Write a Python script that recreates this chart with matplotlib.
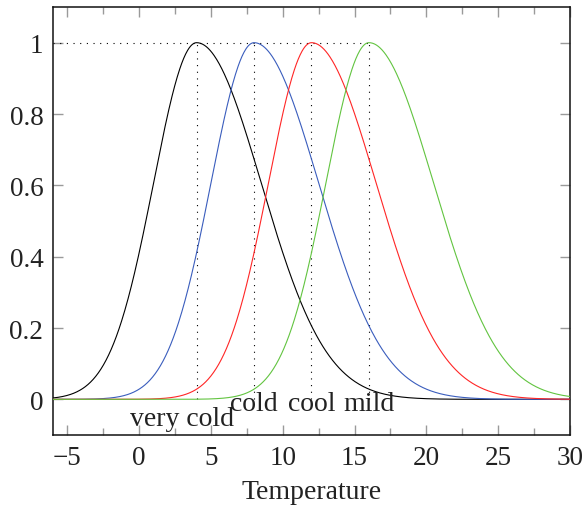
import numpy as np
import matplotlib
import matplotlib.pyplot as plt
from matplotlib.ticker import MultipleLocator
matplotlib.use('agg')

# membership functions: split gaussians
names = ['very cold', 'cold', 'cool', 'mild']
centers = [4, 8, 12, 16]
sigma_left = 3.0
sigma_right = 4.5
colors = ['black', '#3a5dbd', '#ff2626', '#62c440']

# label anchor positions (x, y) in data coords
label_x = [3.0, 8.0, 12.0, 16.0]
label_y = [-0.055, -0.013, -0.013, -0.013]

x_min, x_max = -6, 30
y_min, y_max = -0.1, 1.1

plt.rcParams['font.family'] = ['Liberation Serif', 'DejaVu Serif']

fig = plt.figure(figsize=(5.83, 5.10), dpi=100)
ax = fig.add_axes([0.0909, 0.1451, 0.9777 - 0.0909, 0.9843 - 0.1451])

xs = np.linspace(x_min, x_max, 800)
for c, col in zip(centers, colors):
    sig = np.where(xs < c, sigma_left, sigma_right)
    ax.plot(xs, np.exp(-(xs - c) ** 2 / (2 * sig ** 2)), color=col, lw=0.8, zorder=3)

# dotted guides
dot = dict(color='black', lw=0.8, dashes=(1, 5), zorder=2)
ax.plot([x_min, max(centers)], [1, 1], **dot)
for c in centers:
    ax.plot([c, c], [0, 1], **dot)

for name, lx, ly in zip(names, label_x, label_y):
    ax.text(lx, ly, name, ha='center', va='center', fontsize=20, color='#222222', zorder=4)

ax.set_xlim(x_min, x_max)
ax.set_ylim(y_min, y_max)
ax.xaxis.set_minor_locator(MultipleLocator(2.5))
ax.set_yticks([0, 0.2, 0.4, 0.6, 0.8, 1])
ax.set_yticklabels(['0', '0.2', '0.4', '0.6', '0.8', '1'])
ax.set_xticks(range(-5, 31, 5))
ax.set_xticklabels(['\u22125' if v == -5 else str(v) for v in range(-5, 31, 5)])

ax.tick_params(which='both', direction='in', top=True, right=True,
               color='#9a9a9a', labelsize=19.5, labelcolor='#222222', width=1.0)
ax.tick_params(which='major', length=7, pad=7)
ax.tick_params(which='minor', length=5)
for s in ax.spines.values():
    s.set_linewidth(1.1)
    s.set_color('#111111')

ax.set_xlabel('Temperature', fontsize=20, color='#222222', labelpad=7)

plt.savefig('out.png', dpi=100)
plt.close(fig)
